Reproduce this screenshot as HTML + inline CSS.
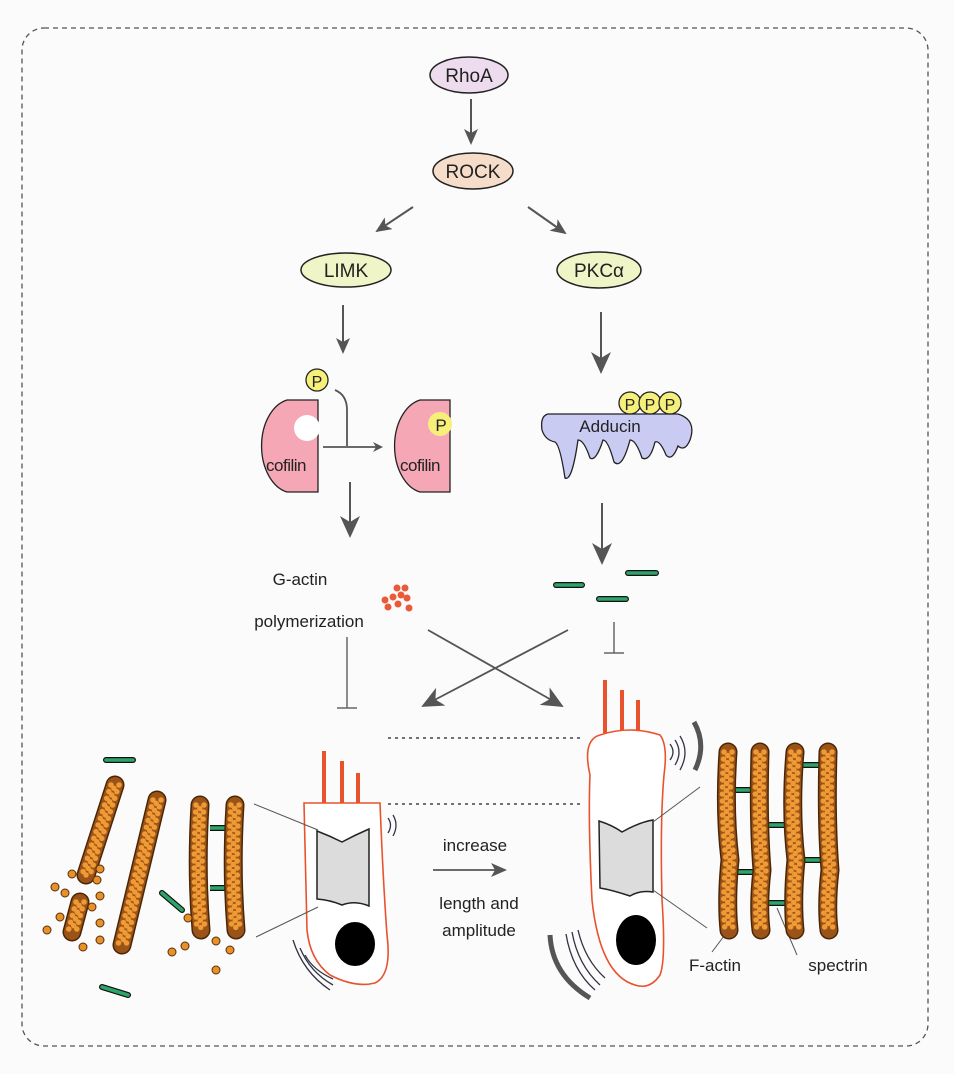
<!DOCTYPE html>
<html><head><meta charset="utf-8"><style>
html,body{margin:0;padding:0;background:#fbfbfb;}
svg{display:block;}
text{font-family:"Liberation Sans",sans-serif;fill:#222;}
</style></head><body>
<svg width="954" height="1074" viewBox="0 0 954 1074" xmlns="http://www.w3.org/2000/svg">
<defs>
<marker id="ah" markerWidth="10" markerHeight="10" refX="8" refY="5" orient="auto" markerUnits="userSpaceOnUse"><path d="M0,0 L10,5 L0,10 L3,5 Z" fill="#555"/></marker>
<marker id="ahb" markerWidth="22" markerHeight="20" refX="20" refY="10" orient="auto" markerUnits="userSpaceOnUse"><path d="M0,0 L22,10 L0,20 L6,10 Z" fill="#555"/></marker>
<marker id="ahm" markerWidth="16" markerHeight="14" refX="14" refY="7" orient="auto" markerUnits="userSpaceOnUse"><path d="M0,0 L16,7 L0,14 L4,7 Z" fill="#555"/></marker>
</defs>
<rect x="0" y="0" width="954" height="1074" fill="#fbfbfb"/>
<rect x="22" y="28" width="906" height="1018" rx="22" fill="none" stroke="#555" stroke-width="1.3" stroke-dasharray="5,4"/>

<ellipse cx="469" cy="75" rx="39" ry="18" fill="#eddcee" stroke="#222" stroke-width="1.5"/>
<text x="469" y="82" font-size="19" text-anchor="middle">RhoA</text>
<line x1="471" y1="99" x2="471" y2="143" stroke="#555" stroke-width="2" marker-end="url(#ahm)"/>
<ellipse cx="473" cy="171" rx="40" ry="18" fill="#f6ddca" stroke="#222" stroke-width="1.5"/>
<text x="473" y="178" font-size="19" text-anchor="middle">ROCK</text>
<line x1="413" y1="207" x2="377" y2="231" stroke="#555" stroke-width="2" marker-end="url(#ahm)"/>
<line x1="528" y1="207" x2="565" y2="233" stroke="#555" stroke-width="2" marker-end="url(#ahm)"/>
<ellipse cx="346" cy="270" rx="45" ry="17" fill="#eff5c6" stroke="#222" stroke-width="1.5"/>
<text x="346" y="277" font-size="19" text-anchor="middle">LIMK</text>
<ellipse cx="599" cy="270" rx="42" ry="18" fill="#eff5c6" stroke="#222" stroke-width="1.5"/>
<text x="599" y="277" font-size="19" text-anchor="middle">PKCα</text>

<line x1="343" y1="305" x2="343" y2="352" stroke="#555" stroke-width="2" marker-end="url(#ahm)"/>
<line x1="601" y1="312" x2="601" y2="372" stroke="#555" stroke-width="2" marker-end="url(#ahb)"/>

<circle cx="317" cy="380" r="11" fill="#f6ef7a" stroke="#222" stroke-width="1.3"/>
<text x="317" y="387" font-size="16" text-anchor="middle">P</text>
<path d="M335,390 Q347,395 347,410 L347,446" fill="none" stroke="#555" stroke-width="1.8"/>
<line x1="323" y1="447" x2="381" y2="447" stroke="#555" stroke-width="1.8" marker-end="url(#ah)"/>
<path d="M318,400 L287,400 A32,47 0 0 0 287,492 L318,492 Z" fill="#f5a7b5" stroke="#222" stroke-width="1.3"/>
<circle cx="307" cy="428" r="13" fill="#fff"/>
<text x="286" y="471" font-size="17" text-anchor="middle" letter-spacing="-0.5">cofilin</text>
<path d="M450,400 L420,400 A32,47 0 0 0 420,492 L450,492 Z" fill="#f5a7b5" stroke="#222" stroke-width="1.3"/>
<circle cx="440" cy="424" r="12" fill="#f6ef7a"/>
<text x="441" y="431" font-size="17" text-anchor="middle">P</text>
<text x="420" y="471" font-size="17" text-anchor="middle" letter-spacing="-0.5">cofilin</text>

<path d="M548,414 L678,414 Q697,420 690,440 Q685,452 678,446 Q672,462 666,455 Q660,440 655,442 Q650,462 642,458 Q636,440 630,440 Q622,470 614,462 Q608,440 603,440 Q596,462 590,458 Q584,440 578,440 Q572,482 565,478 Q560,445 555,442 Q545,440 542,430 Q540,416 548,414 Z" fill="#c9cbf3" stroke="#222" stroke-width="1.3"/>
<text x="610" y="432" font-size="17" text-anchor="middle">Adducin</text>
<circle cx="630" cy="403" r="11" fill="#f6ef7a" stroke="#222" stroke-width="1.3"/>
<circle cx="650" cy="403" r="11" fill="#f6ef7a" stroke="#222" stroke-width="1.3"/>
<circle cx="670" cy="403" r="11" fill="#f6ef7a" stroke="#222" stroke-width="1.3"/>
<text x="630" y="410" font-size="16" text-anchor="middle">P</text>
<text x="650" y="410" font-size="16" text-anchor="middle">P</text>
<text x="670" y="410" font-size="16" text-anchor="middle">P</text>

<line x1="350" y1="482" x2="350" y2="536" stroke="#555" stroke-width="2" marker-end="url(#ahb)"/>
<line x1="602" y1="503" x2="602" y2="563" stroke="#555" stroke-width="2" marker-end="url(#ahb)"/>

<text x="300" y="585" font-size="17" text-anchor="middle">G-actin</text>
<text x="309" y="627" font-size="17" text-anchor="middle">polymerization</text>
<g fill="#e85a3a">
<circle cx="397" cy="588" r="3.5"/><circle cx="405" cy="588" r="3.5"/><circle cx="401" cy="595" r="3.5"/><circle cx="393" cy="597" r="3.5"/><circle cx="407" cy="598" r="3.5"/><circle cx="385" cy="600" r="3.5"/><circle cx="398" cy="604" r="3.5"/><circle cx="388" cy="607" r="3.5"/><circle cx="409" cy="608" r="3.5"/>
</g>
<g stroke="#111" stroke-width="6" stroke-linecap="round"><line x1="556" y1="585" x2="582" y2="585"/><line x1="628" y1="573" x2="656" y2="573"/><line x1="599" y1="599" x2="626" y2="599"/></g>
<g stroke="#2fa46a" stroke-width="3.6" stroke-linecap="round"><line x1="556" y1="585" x2="582" y2="585"/><line x1="628" y1="573" x2="656" y2="573"/><line x1="599" y1="599" x2="626" y2="599"/></g>

<g stroke="#666" stroke-width="1.5">
<line x1="347" y1="637" x2="347" y2="708"/><line x1="337" y1="708" x2="357" y2="708"/>
<line x1="614" y1="622" x2="614" y2="653"/><line x1="604" y1="653" x2="624" y2="653"/>
</g>
<line x1="428" y1="630" x2="562" y2="706" stroke="#555" stroke-width="1.8" marker-end="url(#ahb)"/>
<line x1="568" y1="630" x2="423" y2="706" stroke="#555" stroke-width="1.8" marker-end="url(#ahb)"/>

<g stroke="#444" stroke-width="1.5" stroke-dasharray="3,4"><line x1="388" y1="738" x2="582" y2="738"/><line x1="388" y1="804" x2="582" y2="804"/></g>

<g stroke="#e8532e" stroke-width="4"><line x1="324" y1="751" x2="324" y2="803"/><line x1="342" y1="761" x2="342" y2="803"/><line x1="358" y1="773" x2="358" y2="803"/></g>
<path d="M304,803 L380,803 Q383,880 387,935 Q392,975 375,983 Q355,988 330,975 Q310,960 307,930 Z" fill="#fff" stroke="#e8532e" stroke-width="1.6"/>
<path d="M317,831 Q330,836 342,842 Q355,835 369,829 L369,906 Q355,900 342,905 Q330,900 317,899 Z" fill="#dcdcdc" stroke="#222" stroke-width="1.5"/>
<ellipse cx="355" cy="944" rx="20" ry="22" fill="#000"/>
<g fill="none" stroke="#334" stroke-width="1.3"><path d="M388,818 Q393,825 388,833"/><path d="M393,815 Q399,825 393,836"/><path d="M300,948 Q310,972 333,985"/><path d="M293,940 Q303,972 330,990"/><path d="M305,955 Q313,970 333,979"/></g>
<g stroke="#555" stroke-width="1"><line x1="254" y1="804" x2="318" y2="830"/><line x1="256" y1="937" x2="318" y2="907"/></g>

<g stroke="#e8532e" stroke-width="4"><line x1="605" y1="680" x2="605" y2="733"/><line x1="622" y1="690" x2="622" y2="730"/><line x1="638" y1="700" x2="638" y2="730"/></g>
<path d="M600,735 Q630,725 660,735 Q668,745 664,775 Q660,820 662,900 Q666,960 660,975 Q650,990 635,985 Q600,975 592,900 Q588,820 590,775 Q582,740 600,735 Z" fill="#fff" stroke="#e8532e" stroke-width="1.6"/>
<path d="M599,821 Q612,825 622,832 Q640,822 653,820 L653,892 Q640,890 630,896 Q612,890 600,888 Z" fill="#dcdcdc" stroke="#222" stroke-width="1.5"/>
<ellipse cx="636" cy="940" rx="20" ry="25" fill="#000"/>
<g fill="none" stroke="#334" stroke-width="1.3"><path d="M670,744 Q676,752 670,760"/><path d="M675,740 Q683,752 675,765"/><path d="M680,736 Q690,752 680,770"/></g>
<path d="M694,722 Q707,745 695,770" fill="none" stroke="#555" stroke-width="5"/>
<g fill="none" stroke="#334" stroke-width="1.3"><path d="M578,930 Q585,960 605,978"/><path d="M572,932 Q578,965 600,985"/><path d="M566,934 Q572,970 595,990"/></g>
<path d="M550,935 Q552,975 590,998" fill="none" stroke="#555" stroke-width="5"/>
<g stroke="#555" stroke-width="1"><line x1="653" y1="822" x2="700" y2="787"/><line x1="653" y1="890" x2="707" y2="928"/><line x1="727" y1="932" x2="712" y2="952"/><line x1="777" y1="908" x2="797" y2="955"/></g>

<text x="475" y="851" font-size="17" text-anchor="middle">increase</text>
<line x1="433" y1="870" x2="505" y2="870" stroke="#555" stroke-width="1.8" marker-end="url(#ahm)"/>
<text x="479" y="909" font-size="17" text-anchor="middle">length and</text>
<text x="479" y="936" font-size="17" text-anchor="middle">amplitude</text>
<text x="715" y="971" font-size="17" text-anchor="middle">F-actin</text>
<text x="838" y="971" font-size="17" text-anchor="middle">spectrin</text>

<g stroke="#111" stroke-width="6"><line x1="735" y1="790" x2="757" y2="790"/><line x1="765" y1="825" x2="790" y2="825"/><line x1="800" y1="765" x2="822" y2="765"/><line x1="735" y1="872" x2="757" y2="872"/><line x1="767" y1="903" x2="792" y2="903"/><line x1="802" y1="860" x2="824" y2="860"/>
<line x1="210" y1="828" x2="232" y2="828"/><line x1="210" y1="888" x2="232" y2="888"/></g>
<g stroke="#2fa46a" stroke-width="3.6"><line x1="735" y1="790" x2="757" y2="790"/><line x1="765" y1="825" x2="790" y2="825"/><line x1="800" y1="765" x2="822" y2="765"/><line x1="735" y1="872" x2="757" y2="872"/><line x1="767" y1="903" x2="792" y2="903"/><line x1="802" y1="860" x2="824" y2="860"/>
<line x1="210" y1="828" x2="232" y2="828"/><line x1="210" y1="888" x2="232" y2="888"/></g>

<g fill="none" stroke-linecap="round">
<g stroke="#4a2606" stroke-width="19">
<path d="M728,752 Q724,810 730,860 Q726,900 729,930"/><path d="M760,752 Q758,820 762,870 Q758,905 761,930"/><path d="M795,752 Q790,810 796,860 Q792,900 795,930"/><path d="M828,752 Q826,820 830,870 Q826,905 829,930"/>
<path d="M115,785 L86,875"/><path d="M80,902 L72,932"/><path d="M157,800 L122,945"/><path d="M200,805 Q196,870 201,930"/><path d="M235,805 Q231,870 236,930"/>
</g>
<g stroke="#9a5418" stroke-width="16">
<path d="M728,752 Q724,810 730,860 Q726,900 729,930"/><path d="M760,752 Q758,820 762,870 Q758,905 761,930"/><path d="M795,752 Q790,810 796,860 Q792,900 795,930"/><path d="M828,752 Q826,820 830,870 Q826,905 829,930"/>
<path d="M115,785 L86,875"/><path d="M80,902 L72,932"/><path d="M157,800 L122,945"/><path d="M200,805 Q196,870 201,930"/><path d="M235,805 Q231,870 236,930"/>
</g>
<g stroke="#f09a35" stroke-width="5.5" stroke-dasharray="0 7">
<path d="M724,752 Q720,810 726,860 Q722,900 725,930"/><path d="M756,752 Q754,820 758,870 Q754,905 757,930"/><path d="M791,752 Q786,810 792,860 Q788,900 791,930"/><path d="M824,752 Q822,820 826,870 Q822,905 825,930"/>
<path d="M111,785 L82,875"/><path d="M76,902 L68,932"/><path d="M153,800 L118,945"/><path d="M196,805 Q192,870 197,930"/><path d="M231,805 Q227,870 232,930"/>
</g>
<g stroke="#f09a35" stroke-width="5.5" stroke-dasharray="0 7" stroke-dashoffset="3.5">
<path d="M728,752 Q724,810 730,860 Q726,900 729,930"/><path d="M760,752 Q758,820 762,870 Q758,905 761,930"/><path d="M795,752 Q790,810 796,860 Q792,900 795,930"/><path d="M828,752 Q826,820 830,870 Q826,905 829,930"/>
<path d="M115,785 L86,875"/><path d="M80,902 L72,932"/><path d="M157,800 L122,945"/><path d="M200,805 Q196,870 201,930"/><path d="M235,805 Q231,870 236,930"/>
</g>
<g stroke="#f09a35" stroke-width="5.5" stroke-dasharray="0 7">
<path d="M732,752 Q728,810 734,860 Q730,900 733,930"/><path d="M764,752 Q762,820 766,870 Q762,905 765,930"/><path d="M799,752 Q794,810 800,860 Q796,900 799,930"/><path d="M832,752 Q830,820 834,870 Q830,905 833,930"/>
<path d="M119,785 L90,875"/><path d="M84,902 L76,932"/><path d="M161,800 L126,945"/><path d="M204,805 Q200,870 205,930"/><path d="M239,805 Q235,870 240,930"/>
</g>
</g>

<g fill="#e8902a" stroke="#5a2e08" stroke-width="1">
<circle cx="72" cy="874" r="4"/><circle cx="100" cy="869" r="4"/><circle cx="55" cy="887" r="4"/><circle cx="65" cy="893" r="4"/><circle cx="97" cy="880" r="4"/><circle cx="100" cy="896" r="4"/><circle cx="92" cy="907" r="4"/><circle cx="60" cy="917" r="4"/><circle cx="100" cy="923" r="4"/><circle cx="47" cy="930" r="4"/><circle cx="83" cy="947" r="4"/><circle cx="100" cy="940" r="4"/>
<circle cx="188" cy="918" r="4"/><circle cx="172" cy="952" r="4"/><circle cx="216" cy="941" r="4"/><circle cx="230" cy="950" r="4"/><circle cx="185" cy="946" r="4"/><circle cx="216" cy="970" r="4"/>
</g>
<g stroke="#111" stroke-width="6" stroke-linecap="round"><line x1="106" y1="760" x2="133" y2="760"/><line x1="162" y1="893" x2="182" y2="910"/><line x1="102" y1="987" x2="128" y2="995"/></g>
<g stroke="#2fa46a" stroke-width="3.6" stroke-linecap="round"><line x1="106" y1="760" x2="133" y2="760"/><line x1="162" y1="893" x2="182" y2="910"/><line x1="102" y1="987" x2="128" y2="995"/></g>
</svg>
</body></html>
